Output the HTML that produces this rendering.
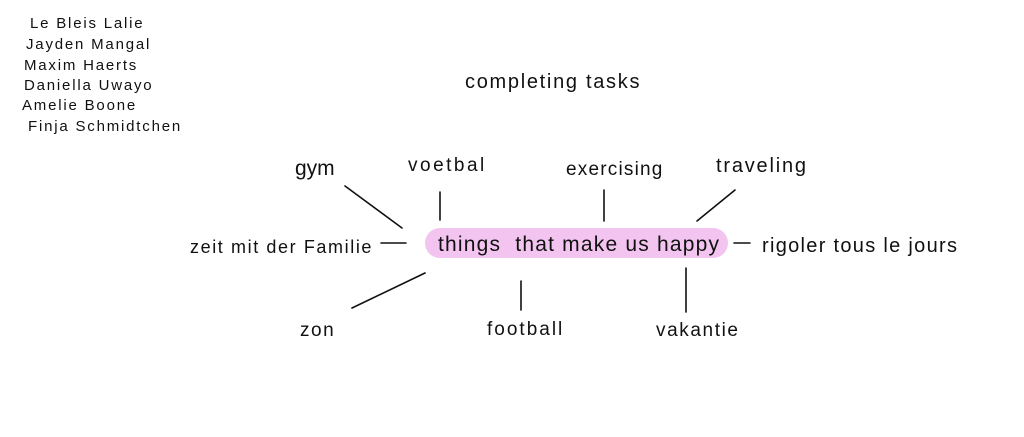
<!DOCTYPE html>
<html><head><meta charset="utf-8"><style>
html,body{margin:0;padding:0;background:#fff;}
body{width:1024px;height:437px;position:relative;overflow:hidden;font-family:"Liberation Sans",sans-serif;color:#111;}
.t{position:absolute;white-space:nowrap;font-size:19px;line-height:1;}
.n{position:absolute;white-space:nowrap;font-size:15px;line-height:1;letter-spacing:1.8px;}
</style></head><body>
<div class="n" style="top:16px;left:30px">Le Bleis Lalie</div>
<div class="n" style="top:37px;left:26px">Jayden Mangal</div>
<div class="n" style="top:58px;left:24px">Maxim Haerts</div>
<div class="n" style="top:78px;left:24px">Daniella Uwayo</div>
<div class="n" style="top:98px;left:22px">Amelie Boone</div>
<div class="n" style="top:119px;left:28px">Finja Schmidtchen</div>

<div class="t" style="left:465px;top:72px;font-size:20px;letter-spacing:1.7px">completing tasks</div>

<svg width="1024" height="437" style="position:absolute;left:0;top:0">
<rect x="425" y="228" width="303" height="30" rx="15" fill="#f3c4ef"/>
<g stroke="#111" stroke-width="1.6" stroke-linecap="round">
<line x1="345" y1="186" x2="402" y2="228"/>
<line x1="440" y1="192" x2="440" y2="220"/>
<line x1="604" y1="190" x2="604" y2="221"/>
<line x1="735" y1="190" x2="697" y2="221"/>
<line x1="381" y1="243" x2="406" y2="243"/>
<line x1="734" y1="243" x2="750" y2="243"/>
<line x1="352" y1="308" x2="425" y2="273"/>
<line x1="521" y1="281" x2="521" y2="310"/>
<line x1="686" y1="268" x2="686" y2="312"/>
</g>
</svg>

<div class="t" style="left:438px;top:234px;font-size:21px;letter-spacing:1.2px">things&nbsp; that make us happy</div>
<div class="t" style="left:295px;top:158px;font-size:21px">gym</div>
<div class="t" style="left:408px;top:156px;letter-spacing:2.5px">voetbal</div>
<div class="t" style="left:566px;top:160px;letter-spacing:1.2px">exercising</div>
<div class="t" style="left:716px;top:156px;font-size:20px;letter-spacing:1.8px">traveling</div>
<div class="t" style="left:190px;top:238px;font-size:18px;letter-spacing:1.6px">zeit mit der Familie</div>
<div class="t" style="left:762px;top:236px;font-size:20px;letter-spacing:1.3px">rigoler tous le jours</div>
<div class="t" style="left:300px;top:321px;letter-spacing:1.5px">zon</div>
<div class="t" style="left:487px;top:320px;letter-spacing:2px">football</div>
<div class="t" style="left:656px;top:321px;letter-spacing:1.6px">vakantie</div>
</body></html>
